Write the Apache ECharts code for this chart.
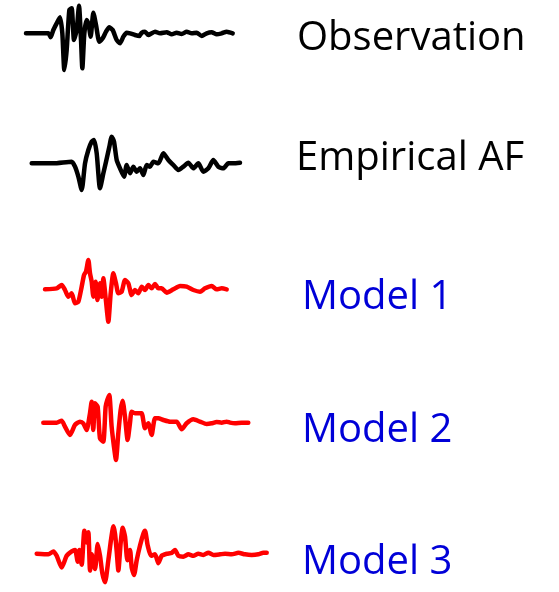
<!DOCTYPE html>
<html><head><meta charset="utf-8">
<script src="https://cdn.jsdelivr.net/npm/echarts@6/dist/echarts.min.js"></script>
<style>html,body{margin:0;padding:0;background:#fff}#c{width:559px;height:592px}</style>
</head><body><div id="c"></div>
<script>
// Trace labels
const labels = ["Observation", "Empirical AF", "Model 1", "Model 2", "Model 3"];
// Waveforms: [time sample, amplitude]
const observation = [[0,0],[67,0],[74,-12],[82,10],[92,30],[102,48],[109,0],[115,-110],[122,-50],[130,70],[137,75],[144,-20],[152,10],[159,83],[165,-20],[169,-105],[175,0],[182,40],[188,25],[194,-10],[202,62],[210,25],[220,-25],[230,-15],[240,5],[250,18],[260,10],[272,-20],[282,-30],[292,-10],[302,2],[312,0],[327,-5],[340,-8],[347,2],[357,5],[367,-5],[377,0],[387,5],[402,0],[422,3],[437,-3],[452,2],[467,-2],[482,5],[497,0],[512,2],[527,-8],[542,0],[557,3],[572,-3],[587,0],[602,5],[620,0]];
const empiricalAF = [[0,0],[65,0],[120,5],[130,-10],[140,-40],[150,-80],[160,0],[170,40],[180,65],[187,70],[195,30],[205,-75],[215,-30],[223,5],[233,50],[240,80],[247,65],[255,10],[265,-15],[277,-40],[285,-5],[295,-30],[305,-10],[315,-25],[325,-15],[335,-35],[345,-5],[355,-10],[365,5],[380,0],[395,30],[410,10],[425,-5],[440,-20],[455,-10],[470,2],[485,-15],[500,0],[515,-25],[530,-15],[545,10],[560,-10],[575,-15],[590,0],[605,0],[625,2]];
const model1 = [[0,0],[35,3],[50,13],[60,-2],[70,-22],[80,-12],[90,-42],[100,-37],[110,8],[117,43],[123,53],[130,88],[135,48],[140,23],[145,-22],[152,23],[157,-32],[165,18],[170,-22],[175,33],[182,-27],[190,-97],[197,-12],[205,48],[213,18],[220,-12],[230,-7],[240,28],[250,18],[260,-17],[270,-2],[280,-12],[290,8],[300,-2],[310,13],[320,3],[330,16],[340,3],[350,3],[365,-10],[385,0],[405,10],[425,8],[445,-2],[465,-7],[480,3],[500,10],[515,0],[530,3],[545,0]];
const model2 = [[0,0],[40,0],[55,6],[65,-12],[80,-37],[95,-7],[110,3],[120,-2],[130,-22],[140,28],[145,63],[150,-22],[155,58],[163,48],[170,-47],[180,-57],[187,48],[192,68],[198,83],[205,-12],[212,-72],[218,-112],[225,-32],[232,38],[238,66],[245,18],[253,-52],[260,-2],[265,33],[275,28],[285,28],[295,28],[305,-17],[315,-2],[325,-37],[335,13],[345,13],[360,8],[380,3],[400,3],[415,-20],[430,-2],[450,10],[470,3],[490,-4],[505,-2],[520,2],[535,0],[550,3],[560,0],[575,-2],[595,0],[615,0]];
const model3 = [[0,0],[35,-2],[50,8],[60,-7],[75,-47],[90,-7],[105,8],[115,13],[123,-27],[128,13],[135,-37],[143,78],[150,38],[155,73],[160,-57],[165,-2],[175,-52],[183,33],[190,-7],[197,-67],[205,-97],[215,-22],[223,48],[230,93],[235,68],[240,8],[245,-57],[252,38],[258,88],[265,58],[272,-22],[280,13],[285,-47],[292,-72],[300,-22],[310,28],[320,68],[325,78],[333,28],[343,-7],[355,-2],[365,-32],[375,-7],[390,0],[405,3],[415,13],[425,-7],[440,-10],[455,-2],[470,-7],[485,0],[500,-4],[515,3],[530,-4],[550,-2],[565,0],[585,-2],[605,3],[625,-2],[645,-4],[665,-2],[680,3],[690,3]];

const traces = [observation, empiricalAF, model1, model2, model3];
const lineColors = ["#000000", "#000000", "#ff0000", "#ff0000", "#ff0000"];
const textColors = ["#000000", "#000000", "#0000d8", "#0000d8", "#0000d8"];
// layout (pixels)
const layout = [
  {left: 26,   top: 0,     width: 206.7, tx: 297, ty: 19},
  {left: 31.7, top: 130,   width: 208.3, tx: 296, ty: 139},
  {left: 45,   top: 256,   width: 181.7, tx: 302, ty: 278},
  {left: 43.3, top: 389.3, width: 205,   tx: 302, ty: 410.5},
  {left: 36.7, top: 524.3, width: 230,   tx: 302, ty: 543}
];
const chart = echarts.init(document.getElementById('c'), null, {renderer: 'canvas'});
const grid = [], xAxis = [], yAxis = [], series = [], graphic = [];
traces.forEach((d, i) => {
  const L = layout[i];
  grid.push({left: L.left, top: L.top, width: L.width, height: 76.67, containLabel: false});
  xAxis.push({type: 'value', gridIndex: i, min: 0, max: d[d.length-1][0], show: false});
  yAxis.push({type: 'value', gridIndex: i, min: -130, max: 100, show: false});
  series.push({type: 'line', xAxisIndex: i, yAxisIndex: i, data: d, showSymbol: false, smooth: 0.2, clip: false,
    silent: true, lineStyle: {color: lineColors[i], width: 4.5, cap: 'round', join: 'round'}});
  graphic.push({type: 'text', left: L.tx, top: L.ty, style: {text: labels[i], fill: textColors[i],
    font: '40px "Open Sans"'}});
});
chart.setOption({animation: false, backgroundColor: '#fff', grid, xAxis, yAxis, series, graphic});
</script></body></html>
